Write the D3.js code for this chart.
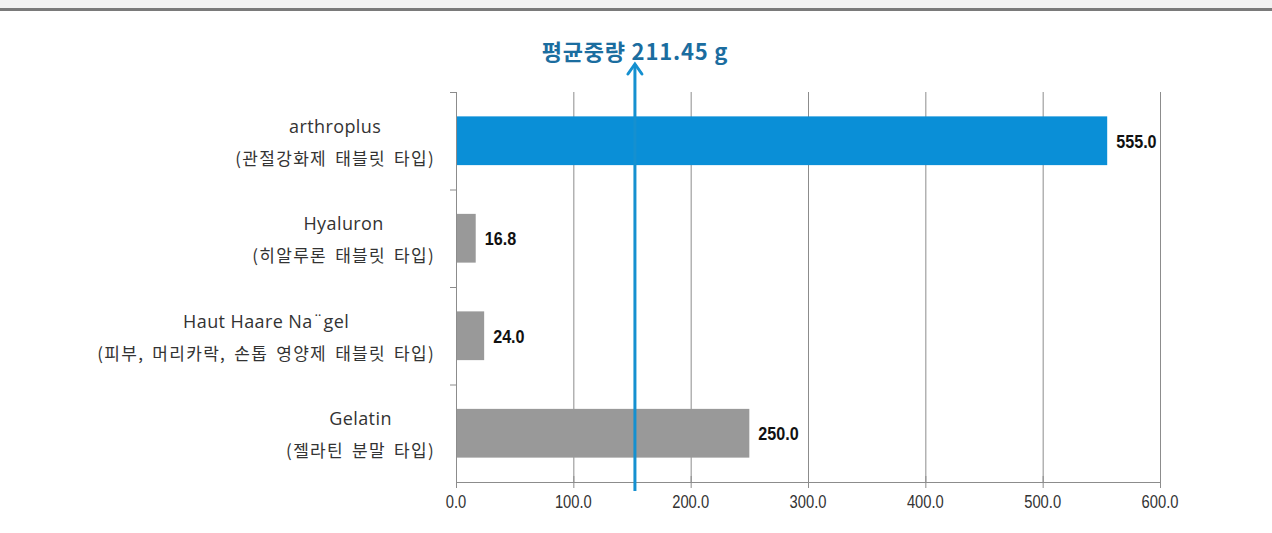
<!DOCTYPE html>
<html><head><meta charset="utf-8">
<script src="https://cdn.jsdelivr.net/npm/d3@7"></script>
<style>
html,body{margin:0;padding:0;background:#fff;}
svg{display:block;}
</style></head>
<body>
<svg id="chart" width="1272" height="533"></svg>
<script>
const categories = ["arthroplus", "Hyaluron", "Haut Haare Na¨gel", "Gelatin"];
const subLabels = ["(관절강화제 태블릿 타입)", "(히알루론 태블릿 타입)", "(피부, 머리카락, 손톱 영양제 태블릿 타입)", "(젤라틴 분말 타입)"];
const values = [555.0, 16.8, 24.0, 250.0];
const highlight = [true, false, false, false];
const xTicks = [0, 100, 200, 300, 400, 500, 600];
const meanLabel = "평균중량 211.45 g";
const meanLinePos = [152.5];

(function(){
const svg = d3.select("#chart");
svg.append("rect").attr("x",0).attr("y",0).attr("width",1272).attr("height",8).attr("fill","#f2f2f2");
svg.append("rect").attr("x",0).attr("y",8).attr("width",1272).attr("height",3).attr("fill","#7a7a7a");

const pL = 456, pR = 1160, pT = 92, pB = 482;
const x = d3.scaleLinear().domain([0,600]).range([pL,pR]);
const y = d3.scaleBand().domain(categories).range([pT,pB]).paddingInner(0.5).paddingOuter(0.25);
const yb = d3.scaleBand().domain(categories).range([pT,pB]);

const condensed = "'Liberation Sans Narrow','Arial Narrow','Liberation Sans',Arial,sans-serif";
const kfont = "'Noto Sans CJK KR','Noto Sans',sans-serif";

svg.append("g").selectAll("line").data(xTicks.slice(1)).join("line")
  .attr("x1",d=>x(d)+0.5).attr("x2",d=>x(d)+0.5).attr("y1",pT).attr("y2",pB)
  .attr("stroke","#8c8c8c").attr("stroke-width",1);

svg.append("g").selectAll("rect").data(values).join("rect")
  .attr("x",x(0)).attr("y",(d,i)=>y(categories[i]))
  .attr("width",d=>x(d)-x(0)).attr("height",y.bandwidth())
  .attr("fill",(d,i)=>highlight[i] ? "#0a8fd7" : "#999999");

// value labels (condensed via horizontal scale)
svg.append("g").selectAll("text").data(values).join("text")
  .attr("transform",(d,i)=>`translate(${x(d)+9},${y(categories[i])+y.bandwidth()/2+7}) scale(0.85,1)`)
  .attr("font-family",condensed).attr("font-size",19).attr("font-weight","bold")
  .attr("fill","#111").text(d=>d.toFixed(1));

const ya = svg.append("g");
ya.append("line").attr("x1",pL+0.5).attr("x2",pL+0.5).attr("y1",pT).attr("y2",pB+5).attr("stroke","#8c8c8c");
const bounds = categories.map(c=>yb(c));
ya.selectAll("line.t").data(bounds).join("line").attr("class","t")
  .attr("x1",pL-6).attr("x2",pL).attr("y1",d=>d+0.5).attr("y2",d=>d+0.5).attr("stroke","#8c8c8c");

const xa = svg.append("g").attr("transform",`translate(0,${pB})`);
xa.append("line").attr("x1",pL).attr("x2",pR).attr("y1",0.5).attr("y2",0.5).attr("stroke","#8c8c8c");
xa.selectAll("line.t").data(xTicks).join("line").attr("class","t")
  .attr("x1",d=>x(d)+0.5).attr("x2",d=>x(d)+0.5).attr("y1",-6).attr("y2",6).attr("stroke","#8c8c8c");
xa.selectAll("text").data(xTicks).join("text")
  .attr("transform",d=>`translate(${x(d)},26) scale(0.82,1)`).attr("text-anchor","middle")
  .attr("font-family",condensed).attr("font-size",18).attr("fill","#333")
  .text(d=>d.toFixed(1));

// category labels: each two-line block centred on itself, right edge at 435
const lab = svg.append("g");
const rightEdge = 435;
categories.forEach((c,i)=>{
  const cy = yb(c)+yb.bandwidth()/2;
  const t1 = lab.append("text").attr("y",cy-8).attr("text-anchor","middle")
    .attr("font-family","'Open Sans','Noto Sans',sans-serif").attr("font-size",18)
    .attr("letter-spacing",0.4).attr("fill","#333").text(c);
  const t2 = lab.append("text").attr("y",cy+24).attr("text-anchor","middle")
    .attr("font-family",kfont).attr("font-size",17).attr("letter-spacing",1.3).attr("word-spacing",3)
    .attr("fill","#333").text(subLabels[i]);
  const w = Math.max(t1.node().getComputedTextLength(), t2.node().getComputedTextLength());
  const cx = rightEdge - w/2;
  t1.attr("x",cx); t2.attr("x",cx);
});

const mx = x(meanLinePos[0]);
svg.append("line").attr("x1",mx).attr("x2",mx).attr("y1",pB+9).attr("y2",64)
  .attr("stroke","#1590d0").attr("stroke-width",3);
svg.append("path").attr("d",`M${mx-7},${74} L${mx},${64} L${mx+7},${74}`)
  .attr("fill","none").attr("stroke","#1590d0").attr("stroke-width",3).attr("stroke-linecap","round");
svg.append("text").attr("x",mx).attr("y",60).attr("text-anchor","middle")
  .attr("font-family",kfont).attr("font-size",22).attr("font-weight","bold").attr("letter-spacing",0.8)
  .attr("fill","#1b6d9f").text(meanLabel);
})();
</script>
</body></html>
